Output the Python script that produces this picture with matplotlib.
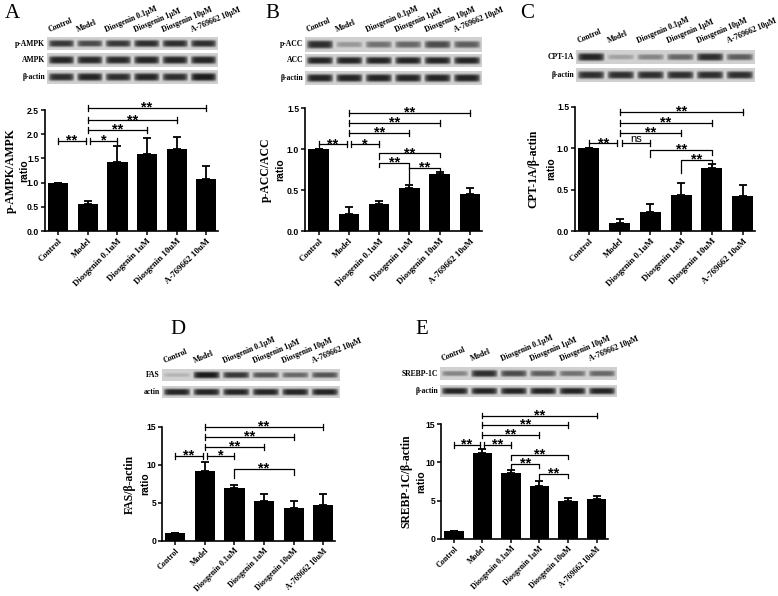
import numpy as np
import matplotlib
matplotlib.use('Agg')
import matplotlib.pyplot as plt

W, H = 778, 596

groups = ["Control", "Model", "Diosgenin 0.1uM", "Diosgenin 1uM", "Diosgenin 10uM", "A-769662 10uM"]
lanes = ["Control", "Model", "Diosgenin 0.1μM", "Diosgenin 1μM", "Diosgenin 10μM", "A-769662 10μM"]

# ratios (mean, upper error)
ampk_mean = [1.0, 0.56, 1.42, 1.60, 1.69, 1.07]
ampk_err = [0.0, 0.06, 0.33, 0.33, 0.26, 0.28]
acc_mean = [1.0, 0.21, 0.33, 0.52, 0.70, 0.45]
acc_err = [0.0, 0.08, 0.035, 0.035, 0.02, 0.08]
cpt_mean = [1.0, 0.10, 0.23, 0.44, 0.76, 0.42]
cpt_err = [0.0, 0.04, 0.10, 0.14, 0.05, 0.14]
fas_mean = [1.0, 9.2, 7.0, 5.3, 4.4, 4.8]
fas_err = [0.0, 1.2, 0.4, 0.9, 0.8, 1.4]
srebp_mean = [1.0, 11.2, 8.6, 6.9, 5.0, 5.2]
srebp_err = [0.0, 0.5, 0.4, 0.7, 0.3, 0.4]

# western blot band strengths per lane
pampk_band = [0.80, 0.70, 0.80, 0.85, 0.85, 0.85]
ampk_band = [0.90, 0.88, 0.88, 0.90, 0.90, 0.90]
actin_a_band = [0.85, 0.90, 0.85, 0.90, 0.85, 0.95]
pacc_band = [0.85, 0.30, 0.50, 0.55, 0.70, 0.60]
acc_band = [0.90, 0.90, 0.90, 0.90, 0.90, 0.90]
actin_b_band = [0.90, 0.90, 0.90, 0.90, 0.90, 0.90]
cpt_band = [0.90, 0.25, 0.40, 0.55, 0.85, 0.60]
actin_c_band = [0.85, 0.85, 0.85, 0.85, 0.85, 0.85]
fas_band = [0.15, 0.95, 0.80, 0.65, 0.55, 0.65]
actin_d_band = [0.90, 0.90, 0.90, 0.90, 0.90, 0.90]
srebp_band = [0.40, 0.85, 0.70, 0.60, 0.50, 0.55]
actin_e_band = [0.90, 0.90, 0.90, 0.90, 0.90, 0.90]

SERIF = "Liberation Serif"
SANS = "Liberation Sans"

fig = plt.figure(figsize=(W / 100, H / 100), dpi=100)


def px(x0, y0, x1, y1):
    return [x0 / W, 1 - y1 / H, (x1 - x0) / W, (y1 - y0) / H]


def ftext(x, y, s, **kw):
    fig.text(x / W, 1 - y / H, s, **kw)


def blot(x0, x1, y0, y1, bands, name):
    ax = fig.add_axes(px(x0, y0, x1, y1))
    xs = np.linspace(-0.5, 5.5, 360)
    ys = np.linspace(-1, 1, 40)
    img = np.full((40, 360), 0.82)
    for i, b in enumerate(bands):
        hx = np.clip(1 - (np.abs(xs - i) / 0.47) ** 6, 0, 1)
        vy = np.exp(-(ys / (0.28 + 0.3 * b)) ** 4)
        img -= 0.75 * b * np.outer(vy, hx)
    ax.imshow(img, cmap='gray', vmin=0, vmax=1, aspect='auto',
              extent=(-0.5, 5.5, 0, 1), interpolation='bilinear')
    ax.set_axis_off()
    ftext(x0 - 2, (y0 + y1) / 2, name, ha='right', va='center',
          fontsize=5.5, fontweight='bold', family=SERIF)


def lane_labels(x0, x1, ytop):
    lw = (x1 - x0) / 6
    for i, s in enumerate(lanes):
        ftext(x0 + (i + 0.12) * lw, ytop - 3, s, rotation=23, rotation_mode='anchor',
              ha='left', va='bottom', fontsize=5.6, fontweight='bold', family=SERIF)


def star_text(ax, xc, y, s):
    if s == 'ns':
        ax.annotate(s, (xc, y), xytext=(0, 1.2), textcoords='offset points',
                    ha='center', va='baseline', fontsize=8, family=SANS,
                    annotation_clip=False)
    else:
        ax.annotate(s, (xc, y), xytext=(0, -2.8), textcoords='offset points',
                    ha='center', va='baseline', fontsize=10.5, fontweight='bold',
                    family=SANS, annotation_clip=False)


def bar_panel(rect, mean, err, ymax, step, fmt, ylab, ylab_x, ratio_x, xfs, brackets, legged):
    ax = fig.add_axes(px(*rect))
    x = np.arange(len(groups))
    ax.bar(x, mean, width=0.68, color='black', zorder=2)
    ax.errorbar(x, mean, yerr=[np.zeros(len(err)), err], fmt='none', ecolor='black',
                elinewidth=1.3, capsize=3, capthick=1.3, zorder=1)
    ax.set_xlim(-0.45, 5.4)
    ax.set_ylim(0, ymax)
    ticks = np.arange(0, ymax + step / 2, step)
    ax.set_yticks(ticks)
    ax.set_yticklabels([fmt.format(t) for t in ticks], fontsize=6.2, fontweight='bold', family=SANS)
    ax.set_xticks(x)
    ax.set_xticklabels(groups, rotation=45, ha='right', rotation_mode='anchor',
                       fontsize=xfs, fontweight='bold', family=SERIF)
    for s in ['top', 'right']:
        ax.spines[s].set_visible(False)
    for s in ['left', 'bottom']:
        ax.spines[s].set_linewidth(1.2)
    ax.tick_params(axis='both', width=1.1, length=3, pad=1.2)
    cap = ymax * 0.025
    for x1, x2, y, s in brackets:
        ax.plot([x1, x2], [y, y], color='black', lw=0.9, clip_on=False)
        for xe in (x1, x2):
            ax.plot([xe, xe], [y - cap, y + cap], color='black', lw=0.9, clip_on=False)
        star_text(ax, (x1 + x2) / 2, y, s)
    for x1, x2, y, s, l1, l2 in legged:
        ax.plot([x1, x1, x2, x2], [y - l1, y, y, y - l2], color='black', lw=0.9, clip_on=False)
        star_text(ax, (x1 + x2) / 2, y, s)
    yc = (rect[1] + rect[3]) / 2
    ftext(ylab_x, yc, ylab, rotation=90, ha='center', va='center',
          fontsize=8.5, fontweight='bold', family=SERIF)
    ftext(ratio_x, yc, "ratio", rotation=90, ha='center', va='center',
          fontsize=7.5, fontweight='bold', family=SANS)
    return ax


# ---- A
ftext(12, 13, "A", ha='center', va='center', fontsize=15, family=SERIF)
blot(47, 218, 37, 50, pampk_band, "p-AMPK")
blot(47, 218, 53, 67, ampk_band, "AMPK")
blot(47, 218, 70, 84, actin_a_band, "β-actin")
lane_labels(47, 218, 37)
bar_panel((45, 110, 218, 231), ampk_mean, ampk_err, 2.5, 0.5, "{:.1f}", "p-AMPK/AMPK", 11, 24, 6.3,
          [(0, 0.93, 1.86, '**'), (1.07, 2, 1.86, '*'), (1, 3, 2.09, '**'),
           (1, 4, 2.29, '**'), (1, 5, 2.54, '**')], [])

# ---- B
ftext(272, 13, "B", ha='center', va='center', fontsize=15, family=SERIF)
blot(305, 482, 37, 52, pacc_band, "p-ACC")
blot(305, 482, 54, 67, acc_band, "ACC")
blot(305, 482, 71, 85, actin_b_band, "β-actin")
lane_labels(305, 482, 37)
bar_panel((305, 108, 482, 231), acc_mean, acc_err, 1.5, 0.5, "{:.1f}", "p-ACC/ACC", 266, 280, 6.3,
          [(0, 0.93, 1.06, '**'), (1.07, 2, 1.06, '*'), (1, 3, 1.195, '**'),
           (1, 4, 1.32, '**'), (1, 5, 1.44, '**')],
          [(2, 4, 0.95, '**', 0.07, 0.05), (2, 3, 0.83, '**', 0.05, 0.25),
           (3, 4, 0.77, '**', 0.0, 0.04)])

# ---- C
ftext(527, 13, "C", ha='center', va='center', fontsize=15, family=SERIF)
blot(576, 755, 50, 64, cpt_band, "CPT-1A")
blot(576, 755, 68, 82, actin_c_band, "β-actin")
lane_labels(576, 755, 48)
bar_panel((575, 107, 755, 231), cpt_mean, cpt_err, 1.5, 0.5, "{:.1f}", "CPT-1A/β-actin", 533, 551, 6.3,
          [(0, 0.93, 1.06, '**'), (1.07, 2, 1.06, 'ns'), (1, 3, 1.19, '**'),
           (1, 4, 1.31, '**'), (1, 5, 1.44, '**')],
          [(2, 4, 0.98, '**', 0.08, 0.06), (3, 4, 0.86, '**', 0.16, 0.06)])

# ---- D
ftext(178, 330, "D", ha='center', va='center', fontsize=15, family=SERIF)
blot(162, 340, 369, 381, fas_band, "FAS")
blot(162, 340, 386, 398, actin_d_band, "actin")
lane_labels(162, 340, 368)
bar_panel((162, 427, 335, 541), fas_mean, fas_err, 15, 5, "{:.0f}", "FAS/β-actin", 130, 145, 5.8,
          [(0, 0.93, 11.2, '**'), (1.07, 2, 11.2, '*'), (1, 3, 12.4, '**'),
           (1, 4, 13.7, '**'), (1, 5, 15.0, '**')],
          [(2, 4, 9.5, '**', 1.2, 0.8)])

# ---- E
ftext(422, 330, "E", ha='center', va='center', fontsize=15, family=SERIF)
blot(440, 617, 367, 380, srebp_band, "SREBP-1C")
blot(440, 617, 385, 397, actin_e_band, "β-actin")
lane_labels(440, 617, 366)
bar_panel((441, 424, 608, 539), srebp_mean, srebp_err, 15, 5, "{:.0f}", "SREBP-1C/β-actin", 406, 421, 5.8,
          [(0, 0.93, 12.3, '**'), (1.07, 2, 12.3, '**'), (1, 3, 13.6, '**'),
           (1, 4, 14.9, '**'), (1, 5, 16.1, '**')],
          [(2, 4, 11.0, '**', 0.7, 0.6), (2, 3, 9.8, '**', 0.8, 0.5),
           (3, 4, 8.5, '**', 0.7, 0.6)])

fig.savefig("out.png", dpi=100)
